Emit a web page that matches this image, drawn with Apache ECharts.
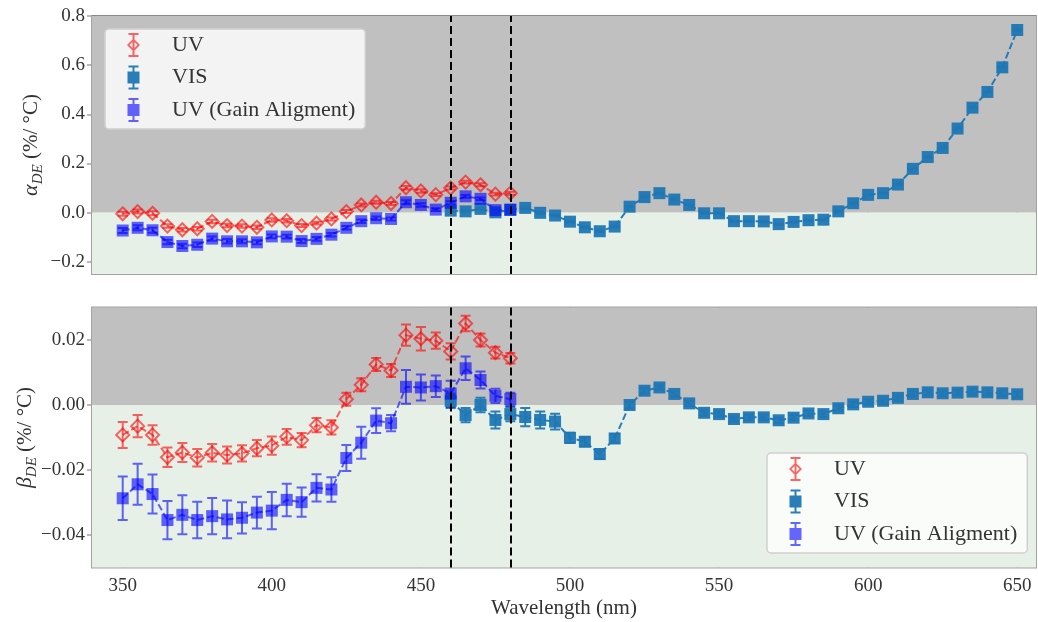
<!DOCTYPE html>
<html>
<head>
<meta charset="utf-8">
<title>alpha / beta DE</title>
<script src="https://cdn.jsdelivr.net/npm/echarts@6/dist/echarts.min.js"></script>
<style>
  html, body { margin: 0; padding: 0; background: #ffffff; }
  #chart { width: 1038px; height: 622px; }
</style>
</head>
<body>
<div id="chart"></div>
<script>
// wavelengths (nm)
const uvWavelengths = [350, 355, 360, 365, 370, 375, 380, 385, 390, 395, 400, 405, 410, 415,
  420, 425, 430, 435, 440, 445, 450, 455, 460, 465, 470, 475, 480]
const visWavelengths = [460, 465, 470, 475, 480, 485, 490, 495, 500, 505, 510, 515, 520, 525,
  530, 535, 540, 545, 550, 555, 560, 565, 570, 575, 580, 585, 590, 595, 600, 605, 610, 615,
  620, 625, 630, 635, 640, 645, 650]
const xTicks = [350, 400, 450, 500, 550, 600, 650]
const bandEdges = [460, 480]

// alpha_DE (% / °C)
const uvAlpha = [-0.005, 0.004, -0.003, -0.055, -0.07, -0.066, -0.036, -0.053, -0.055, -0.06,
  -0.03, -0.033, -0.053, -0.043, -0.026, 0.004, 0.031, 0.042, 0.037, 0.101, 0.088, 0.073,
  0.1, 0.124, 0.113, 0.075, 0.079]
const uvAlphaErr = [0.008, 0.008, 0.008, 0.007, 0.007, 0.007, 0.007, 0.007, 0.007, 0.007,
  0.007, 0.007, 0.006, 0.006, 0.006, 0.006, 0.006, 0.006, 0.006, 0.007, 0.007, 0.006,
  0.006, 0.006, 0.006, 0.006, 0.006]
const gainAlpha = [-0.073, -0.062, -0.072, -0.12, -0.136, -0.131, -0.106, -0.117, -0.117, -0.121,
  -0.097, -0.098, -0.116, -0.107, -0.09, -0.062, -0.035, -0.023, -0.026, 0.042, 0.031, 0.012,
  0.04, 0.066, 0.056, 0.01, 0.012]
const gainAlphaErr = [0.01, 0.01, 0.01, 0.009, 0.009, 0.009, 0.009, 0.009, 0.008, 0.008,
  0.008, 0.008, 0.008, 0.008, 0.007, 0.007, 0.007, 0.007, 0.006, 0.008, 0.007, 0.006,
  0.006, 0.006, 0.005, 0.005, 0.005]
const visAlpha = [0.008, 0.005, 0.015, 0.001, 0.011, 0.019, -0.001, -0.012, -0.037, -0.06,
  -0.076, -0.057, 0.024, 0.063, 0.079, 0.053, 0.031, -0.003, -0.003, -0.035, -0.035, -0.036,
  -0.047, -0.038, -0.031, -0.029, 0.005, 0.038, 0.072, 0.079, 0.114, 0.178, 0.226, 0.263,
  0.342, 0.427, 0.491, 0.591, 0.743]
const visAlphaErr = [0.004, 0.004, 0.004, 0.004, 0.004, 0.004, 0.004, 0.004, 0.003, 0.003,
  0.003, 0.003, 0.002, 0.002, 0.002, 0.002, 0.002, 0.002, 0.002, 0.002, 0.002, 0.002,
  0.002, 0.002, 0.002, 0.002, 0.002, 0.002, 0.002, 0.002, 0.002, 0.002, 0.002, 0.002,
  0.003, 0.003, 0.003, 0.003, 0.004]

// beta_DE (% / °C)
const uvBeta = [-0.0092, -0.0065, -0.0092, -0.0161, -0.0146, -0.0162, -0.0147, -0.0154, -0.0149,
  -0.0133, -0.0125, -0.0098, -0.0108, -0.0062, -0.0069, 0.0018, 0.0062, 0.0125, 0.0106, 0.0215,
  0.0204, 0.0198, 0.0165, 0.0251, 0.02, 0.0161, 0.0144]
const uvBetaErr = [0.004, 0.0034, 0.003, 0.003, 0.0029, 0.0027, 0.0027, 0.0026, 0.0025, 0.0025,
  0.0028, 0.0024, 0.0022, 0.0022, 0.0022, 0.002, 0.002, 0.002, 0.002, 0.0033, 0.0036, 0.0025,
  0.0025, 0.0024, 0.002, 0.0018, 0.0016]
const gainBeta = [-0.0287, -0.0244, -0.0274, -0.0354, -0.0338, -0.0354, -0.0342, -0.0352, -0.0347,
  -0.0331, -0.0325, -0.0292, -0.0299, -0.0255, -0.026, -0.0163, -0.0116, -0.0048, -0.0056, 0.0056,
  0.0054, 0.0058, 0.0035, 0.0113, 0.0077, 0.0028, 0.0018]
const gainBetaErr = [0.0067, 0.0063, 0.006, 0.0059, 0.006, 0.0056, 0.0056, 0.0058, 0.0048, 0.0049,
  0.0057, 0.005, 0.0045, 0.0042, 0.0038, 0.004, 0.0049, 0.0038, 0.0025, 0.0052, 0.004, 0.0033,
  0.004, 0.0036, 0.0026, 0.0022, 0.002]
const visBeta = [0.0013, -0.0031, 0.0, -0.0046, -0.0028, -0.0037, -0.0046, -0.0051, -0.0101,
  -0.0113, -0.0151, -0.0103, 0.0, 0.0044, 0.0054, 0.0034, 0.0005, -0.0024, -0.0028, -0.0043,
  -0.0038, -0.0038, -0.0047, -0.0039, -0.0026, -0.0028, -0.001, 0.0002, 0.001, 0.0013, 0.0022,
  0.0034, 0.0039, 0.0036, 0.0038, 0.0041, 0.0039, 0.0036, 0.0033]
const visBetaErr = [0.0022, 0.0022, 0.0022, 0.0026, 0.0022, 0.0028, 0.0026, 0.0024, 0.0016,
  0.0014, 0.0015, 0.0014, 0.001, 0.0008, 0.0008, 0.0008, 0.0008, 0.0008, 0.0008, 0.0008,
  0.0008, 0.0008, 0.0008, 0.0008, 0.0008, 0.0008, 0.0008, 0.0008, 0.0008, 0.0008, 0.0008,
  0.0008, 0.0008, 0.0008, 0.0008, 0.0008, 0.0008, 0.0008, 0.0008]

const X_MIN = 339.7
const X_MAX = 656.3
const FONT = "'Liberation Serif', 'DejaVu Serif', serif"

const RED = 'rgba(255, 0, 0, 0.6)'
const TEAL = 'rgba(31, 119, 180, 0.95)'
const BLUE = 'rgba(0, 0, 255, 0.6)'

const panels = [
  { min: -0.25, max: 0.8, ticks: [-0.2, 0, 0.2, 0.4, 0.6, 0.8], digits: 1,
    uv: uvAlpha, uvErr: uvAlphaErr, gain: gainAlpha, gainErr: gainAlphaErr,
    vis: visAlpha, visErr: visAlphaErr, symbol: 'α', nameGap: 46 },
  { min: -0.05, max: 0.03, ticks: [-0.04, -0.02, 0, 0.02], digits: 2,
    uv: uvBeta, uvErr: uvBetaErr, gain: gainBeta, gainErr: gainBetaErr,
    vis: visBeta, visErr: visBetaErr, symbol: 'β', nameGap: 52 },
]

function fmt(v, digits) {
  return v.toFixed(digits).replace('-', '\u2212')
}

function points(xs, ys) {
  return xs.map((x, i) => [x, ys[i]])
}

function errRows(xs, ys, errs) {
  return xs.map((x, i) => [x, ys[i] - errs[i], ys[i] + errs[i]])
}

// vertical error bar with caps, drawn as one path so alpha is not doubled
function renderErrorBar(params, api) {
  const x = api.value(0)
  const lo = api.coord([x, api.value(1)])
  const hi = api.coord([x, api.value(2)])
  const c = 5
  const d = `M${hi[0] - c} ${hi[1]}L${hi[0] + c} ${hi[1]}` +
    `M${hi[0]} ${hi[1]}L${lo[0]} ${lo[1]}` +
    `M${lo[0] - c} ${lo[1]}L${lo[0] + c} ${lo[1]}`
  return {
    type: 'path',
    shape: { pathData: d },
    style: { stroke: api.visual('color'), lineWidth: 2, fill: null },
  }
}

function errorSeries(name, idx, rows, color) {
  return {
    name: name,
    type: 'custom',
    xAxisIndex: idx,
    yAxisIndex: idx,
    renderItem: renderErrorBar,
    itemStyle: { color: color },
    encode: { x: 0, y: [1, 2] },
    data: rows,
    silent: true,
  }
}

function lineSeries(name, idx, data, color, symbol, hollow) {
  return {
    name: name,
    type: 'line',
    xAxisIndex: idx,
    yAxisIndex: idx,
    data: data,
    symbol: symbol,
    symbolSize: hollow ? 13 : 12,
    showAllSymbol: true,
    lineStyle: { color: color, width: 2, type: [7, 3] },
    itemStyle: hollow
      ? { color: 'rgba(0,0,0,0)', borderColor: color, borderWidth: 2 }
      : { color: color, borderWidth: 0 },
    emphasis: { disabled: true },
    silent: true,
  }
}

const series = []
const grids = []
const xAxes = []
const yAxes = []

panels.forEach((p, idx) => {
  grids.push({
    left: 92, right: 2,
    top: idx === 0 ? 16 : 307.5,
    height: idx === 0 ? 258 : 260,
    containLabel: false,
    outerBoundsMode: 'none',
    show: true,
    backgroundColor: 'transparent',
    borderColor: '#a3a3a3',
    borderWidth: 2,
  })

  xAxes.push({
    gridIndex: idx,
    type: 'value',
    min: X_MIN,
    max: X_MAX,
    axisLine: { show: false },
    axisTick: { show: true, customValues: xTicks, length: 5, lineStyle: { color: '#a3a3a3', width: 1.5 } },
    axisLabel: {
      show: idx === 1, customValues: xTicks, margin: 9,
      fontFamily: FONT, fontSize: 19, color: '#333',
    },
    splitLine: { show: true, lineStyle: { color: 'rgba(0,0,0,0.2)', width: 1.5 } },
    name: idx === 1 ? 'Wavelength (nm)' : '',
    nameLocation: 'middle',
    nameGap: 30,
    nameMoveOverlap: false,
    nameTextStyle: { fontFamily: FONT, fontSize: 21, color: '#333' },
  })

  yAxes.push({
    gridIndex: idx,
    type: 'value',
    min: p.min,
    max: p.max,
    axisLine: { show: false },
    axisTick: { show: true, customValues: p.ticks, length: 5, lineStyle: { color: '#a3a3a3', width: 1.5 } },
    axisLabel: {
      customValues: p.ticks, margin: 7,
      fontFamily: FONT, fontSize: 19, color: '#333',
      formatter: (v) => fmt(v, p.digits),
    },
    splitLine: { show: true, lineStyle: { color: 'rgba(0,0,0,0.2)', width: 1.5 } },
    name: `{g|${p.symbol}}{s|DE}{t| (%/ °C)}`,
    nameLocation: 'middle',
    nameRotate: 90,
    nameGap: p.nameGap,
    nameMoveOverlap: false,
    nameTextStyle: {
      fontFamily: FONT, color: '#333',
      rich: {
        g: { fontFamily: FONT, fontSize: 22, fontStyle: 'italic', color: '#333' },
        s: { fontFamily: FONT, fontSize: 15, fontStyle: 'italic', color: '#333',
          verticalAlign: 'bottom', lineHeight: 30 },
        t: { fontFamily: FONT, fontSize: 21, color: '#333' },
      },
    },
  })

  // gray above zero, pale green below
  series.push({
    type: 'line',
    xAxisIndex: idx,
    yAxisIndex: idx,
    data: [],
    z: -1,
    silent: true,
    markArea: {
      silent: true,
      data: [
        [{ xAxis: X_MIN, yAxis: 0, itemStyle: { color: '#c0c0c0', opacity: 1 } },
          { xAxis: X_MAX, yAxis: p.max }],
        [{ xAxis: X_MIN, yAxis: p.min, itemStyle: { color: '#e6f0e6', opacity: 1 } },
          { xAxis: X_MAX, yAxis: 0 }],
      ],
    },
  })

  series.push(errorSeries('UV', idx, errRows(uvWavelengths, p.uv, p.uvErr), RED))
  series.push(lineSeries('UV', idx, points(uvWavelengths, p.uv), RED, 'diamond', true))
  series.push(errorSeries('VIS', idx, errRows(visWavelengths, p.vis, p.visErr), TEAL))
  series.push(lineSeries('VIS', idx, points(visWavelengths, p.vis), TEAL, 'rect', false))
  series.push(errorSeries('UV (Gain Aligment)', idx, errRows(uvWavelengths, p.gain, p.gainErr), BLUE))
  const gain = lineSeries('UV (Gain Aligment)', idx, points(uvWavelengths, p.gain), BLUE, 'rect', false)
  gain.markLine = {
    silent: true,
    symbol: ['none', 'none'],
    label: { show: false },
    lineStyle: { color: '#000', width: 2, type: [8, 4] },
    data: bandEdges.map((v) => ({ xAxis: v })),
  }
  series.push(gain)
})

// legend icons: error bar with its marker
const ICON_DIAMOND = 'path://M1 0H11V2H1ZM5 0H7V24H5ZM1 22H11V24H1ZM6 5.5L12.5 12L6 18.5L-0.5 12ZM6 8L2 12L6 16L10 12Z'
const ICON_SQUARE = 'path://M1 0H11V2H1ZM5 0H7V24H5ZM1 22H11V24H1ZM0 6H12V18H0Z'

function legendItems() {
  return [
    { name: 'UV', icon: ICON_DIAMOND, itemStyle: { color: RED } },
    { name: 'VIS', icon: ICON_SQUARE, itemStyle: { color: TEAL } },
    { name: 'UV (Gain Aligment)', icon: ICON_SQUARE, itemStyle: { color: BLUE } },
  ]
}

function makeLegend(left, top) {
  return {
    data: legendItems(),
    orient: 'vertical',
    left: left,
    top: top,
    padding: [4, 10, 7, 22],
    itemWidth: 13,
    itemHeight: 24,
    itemGap: 8.5,
    selectedMode: false,
    backgroundColor: 'rgba(255,255,255,0.8)',
    borderColor: '#cfcfcf',
    borderWidth: 1.5,
    borderRadius: 4,
    itemStyle: { borderWidth: 0 },
    textStyle: { fontFamily: FONT, fontSize: 22, color: '#333', padding: [0, 0, 0, 27] },
  }
}

const chart = echarts.init(document.getElementById('chart'))
chart.setOption({
  animation: false,
  backgroundColor: '#ffffff',
  grid: grids,
  xAxis: xAxes,
  yAxis: yAxes,
  legend: [makeLegend(105, 29), makeLegend(767, 453)],
  series: series,
})
</script>
</body>
</html>
